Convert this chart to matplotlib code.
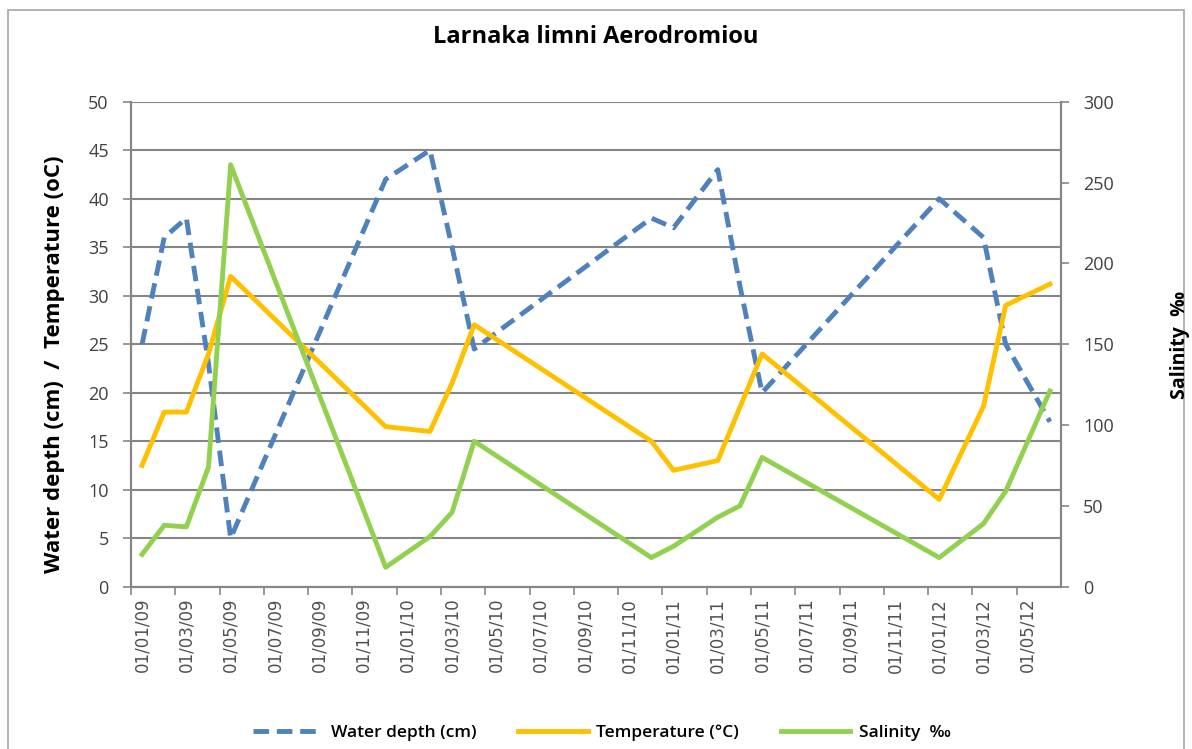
import pandas as pd
import matplotlib
matplotlib.use('Agg')
import matplotlib.pyplot as plt
from matplotlib.patches import Rectangle

# sampling months (Excel date axis, base unit = month)
dates = ['2009-01', '2009-02', '2009-03', '2009-04', '2009-05', '2009-12',
         '2010-02', '2010-03', '2010-04', '2010-12', '2011-01', '2011-03',
         '2011-04', '2011-05', '2012-01', '2012-03', '2012-04', '2012-06']
depth = [25, 36, 38, 23, 5, 42, 45, 35, 24.5, 38, 37, 43, 31, 20, 40, 36, 25, 17]
temp = [12.5, 18, 18, 24, 32, 16.5, 16, 21, 27, 15, 12, 13, 18.5, 24, 9, 18.6, 29, 31.2]
salinity = [20, 38, 37, 74, 261, 12, 31, 46, 90, 18, 25, 43, 50, 80, 18, 39, 59, 121]

start = pd.Period('2009-01', freq='M')
tick_months = pd.period_range('2009-01', '2012-05', freq='M')[::2]
tick_labels = [p.strftime('01/%m/%y') for p in tick_months]

# month slot index, plotted in the middle of each slot
x = [(pd.Period(d, freq='M') - start).n + 0.5 for d in dates]
tick_pos = [(p - start).n for p in tick_months]

plt.rcParams['font.family'] = ['Open Sans', 'DejaVu Sans']
grey = '#505050'
axis_col = '#868686'

fig = plt.figure(figsize=(11.92, 7.49), dpi=100)
fig.patches.append(Rectangle((8 / 1192, -0.01), 1176 / 1192, 1 - 10 / 749 + 0.01,
                             transform=fig.transFigure, fill=False,
                             edgecolor='#a6a6a6', linewidth=1.2))
ax = fig.add_axes([131 / 1192, 1 - 586.7 / 749, 930 / 1192, 485 / 749])
ax2 = ax.twinx()

l1, = ax.plot(x, depth, color='#4F81BD', lw=3.5, linestyle=(0, (3.2, 1.6)),
              label='Water depth (cm)')
l2, = ax.plot(x, temp, color='#FFC000', lw=3.5, label='Temperature (°C)')
l3, = ax2.plot(x, salinity, color='#92D050', lw=3.5, label='Salinity  ‰')

ax.set_xlim(0, 42)
ax.set_ylim(0, 50)
ax.set_yticks(range(0, 51, 5))
ax2.set_ylim(0, 300)
ax2.set_yticks(range(0, 301, 50))
ax.grid(axis='y', color=axis_col, lw=1.5)
ax.set_axisbelow(True)

ax.set_xticks(tick_pos)
ax.set_xticklabels([])
ax.set_xticks([t + 0.5 for t in tick_pos], minor=True)
ax.set_xticklabels(tick_labels, minor=True, rotation=90, fontsize=12,
                   family='DejaVu Sans', color=grey)
ax.tick_params(axis='x', which='major', length=6, color=axis_col, width=1.2)
ax.tick_params(axis='x', which='minor', length=0, pad=8)
ax.tick_params(axis='y', length=6, color=axis_col, width=1.2, labelsize=13,
               labelcolor='#404040', pad=10)
ax2.tick_params(axis='y', length=6, color=axis_col, width=1.2, labelsize=13,
                labelcolor='#404040', pad=10)

for a in (ax, ax2):
    a.spines['top'].set_visible(False)
    for s in ('left', 'right', 'bottom'):
        a.spines[s].set_color(axis_col)
        a.spines[s].set_linewidth(1.5)

fig.text(0.5, 1 - 37 / 749, 'Larnaka limni Aerodromiou', ha='center',
         va='center', fontsize=17, fontweight='bold')
fig.text(55 / 1192, 1 - 364 / 749, 'Water depth (cm)  /  Temperature (oC)',
         rotation=90, ha='center', va='center', fontsize=16, fontweight='bold')
fig.text(1180 / 1192, 1 - 345 / 749, 'Salinity  ‰', rotation=90,
         ha='center', va='center', fontsize=14, fontweight='bold')

fig.legend(handles=[l1, l2, l3], loc='center', ncol=3, frameon=False,
           bbox_to_anchor=(0.505, 1 - 733 / 749),
           prop={'size': 12.5, 'weight': 'semibold'},
           handlelength=4, columnspacing=2.4, handletextpad=0.5)

fig.savefig('out.png', dpi=100)
